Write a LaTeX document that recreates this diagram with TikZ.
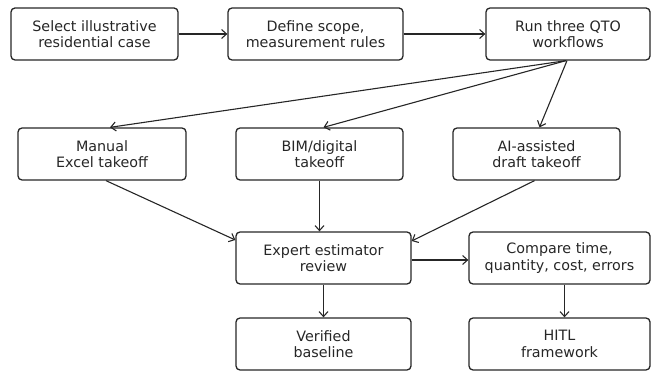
\documentclass[tikz,border=0pt]{standalone}
\usepackage{fontspec}
\setmainfont{DejaVu Sans}
\usetikzlibrary{arrows.meta,calc}
\begin{document}
\begin{tikzpicture}[x=1pt,y=-1pt,
  box/.style={draw=black!85,line width=1.3pt,rounded corners=4pt,align=center,inner sep=0pt,
    minimum height=52pt,font=\fontsize{14.3}{16.5}\selectfont,text=black!85},
  arr/.style={draw=black!85,line width=1.1pt,-{Straight Barb[length=5pt,width=9pt,line width=1.1pt]}}]
\useasboundingbox (0,0) rectangle (651,371);
\node[box,minimum width=167pt] (sel) at (94.5,34) {Select illustrative\\residential case};
\node[box,minimum width=175pt] (def) at (315.5,34) {Define scope,\\measurement rules};
\node[box,minimum width=164pt] (run) at (568,34) {Run three QTO\\workflows};
\node[box,minimum width=168pt] (man) at (102,154) {Manual\\Excel takeoff};
\node[box,minimum width=167pt] (bim) at (319.5,154) {BIM/digital\\takeoff};
\node[box,minimum width=167pt] (ai) at (536.5,154) {AI-assisted\\draft takeoff};
\node[box,minimum width=175pt] (exp) at (323.5,258) {Expert estimator\\review};
\node[box,minimum width=181pt] (cmp) at (559.5,258) {Compare time,\\quantity, cost, errors};
\node[box,minimum width=175pt] (ver) at (323.5,344) {Verified\\baseline};
\node[box,minimum width=181pt] (hitl) at (559.5,344) {HITL\\framework};
\draw[arr] (sel) -- (def);
\draw[arr] (def) -- (run);
\draw[arr] ($(run.south)+(-2,0)$) -- ($(man.north)+(8,0)$);
\draw[arr] ($(run.south)+(-2,0)$) -- ($(bim.north)+(4,0)$);
\draw[arr] ($(run.south)+(-1,0)$) -- ($(ai.north)+(3,0)$);
\draw[arr] ($(man.south)+(4,0)$) -- ($(exp.west)+(0,-18)$);
\draw[arr] (bim.south) -- (bim.south |- exp.north);
\draw[arr] ($(ai.south)+(-2,0)$) -- ($(exp.east)+(0,-17)$);
\draw[arr] ($(exp.east)+(0,2)$) -- ($(cmp.west)+(0,2)$);
\draw[arr] (exp.south) -- (ver.north);
\draw[arr] ($(cmp.south)+(5,0)$) -- ($(hitl.north)+(5,0)$);
\end{tikzpicture}
\end{document}
